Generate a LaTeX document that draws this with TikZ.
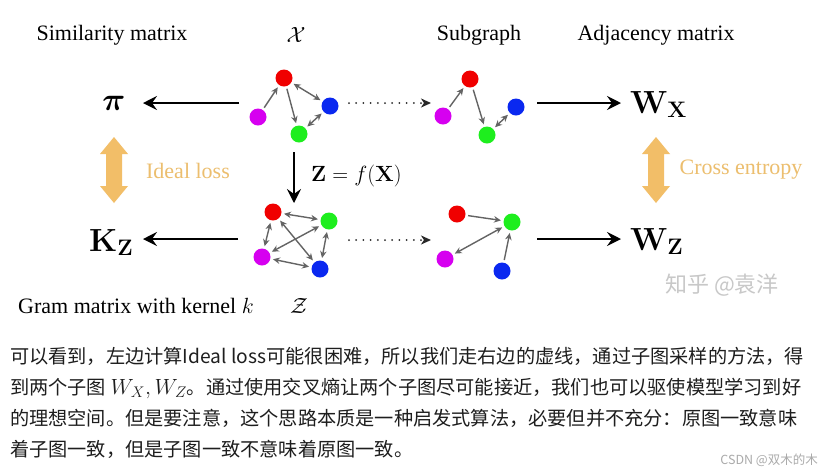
\RequirePackage{fix-cm}
\documentclass[tikz,border=0pt]{standalone}
\usepackage{amsmath}
\usepackage[no-math]{fontspec}
\setmainfont{Liberation Serif}
\newfontfamily\cjk{Noto Sans CJK SC}
\usetikzlibrary{arrows.meta}
\definecolor{nred}{RGB}{240,0,0}
\definecolor{nmag}{RGB}{214,0,240}
\definecolor{nblue}{RGB}{10,40,240}
\definecolor{ngreen}{RGB}{30,238,30}
\definecolor{egray}{RGB}{100,100,100}
\definecolor{lorange}{RGB}{242,190,104}
\definecolor{torange}{RGB}{236,190,110}
\definecolor{ptext}{RGB}{30,30,30}
\definecolor{dgray}{RGB}{40,40,40}
\tikzset{
  gnode/.style={circle, minimum size=17pt, inner sep=0pt},
  gedge/.style={draw=egray, line width=1.4pt, shorten >=2.5pt, shorten <=2.5pt, >={Stealth[length=7pt,width=6.5pt]}},
  bigarrow/.style={line width=1.8pt, -{Stealth[length=14pt,width=14pt,inset=5pt]}},
  dotarrow/.style={draw=dgray, line width=2pt, dash pattern=on 0pt off 7.2pt, line cap=round, -{Stealth[length=10pt,width=9pt,inset=3pt]}},
  lbl/.style={inner sep=0pt, font=\fontsize{22}{26}\selectfont},
  mbig/.style={inner sep=0pt, font=\fontsize{32}{36}\selectfont},
  para/.style={inner sep=0pt, anchor=base west, text=ptext, font=\cjk\fontsize{19.2}{22}\selectfont},
  oarrow/.style={fill=lorange, draw=none}
}
\begin{document}
\begin{tikzpicture}[x=1pt,y=-1pt]
\useasboundingbox (0,0) rectangle (825,475);
\fill[white] (0,0) rectangle (825,475);

% top labels
\node[lbl] (simlab) at (112,35) {Similarity matrix};
\node[lbl] (xcal) at (296,35) {$\mathcal{X}$};
\node[lbl] (sublab) at (479,35) {Subgraph};
\node[lbl] (adjlab) at (656,35) {Adjacency matrix};

% graph X
\node[gnode, fill=nred] (xr) at (284,78) {};
\node[gnode, fill=nmag] (xm) at (258,117) {};
\node[gnode, fill=nblue] (xb) at (330,106) {};
\node[gnode, fill=ngreen] (xg) at (299,134) {};
\draw[gedge,->] (xm) -- (xr);
\draw[gedge,->] (xr) -- (xg);
\draw[gedge,<->] (xr) -- (xb);
\draw[gedge,<->] (xb) -- (xg);

% subgraph top
\node[gnode, fill=nred] (sr) at (470,79) {};
\node[gnode, fill=nmag] (sm) at (443,116) {};
\node[gnode, fill=nblue] (sb) at (516,107) {};
\node[gnode, fill=ngreen] (sg) at (487,135) {};
\draw[gedge,->] (sm) -- (sr);
\draw[gedge,->] (sr) -- (sg);
\draw[gedge,<->] (sg) -- (sb);

% graph Z
\node[gnode, fill=nred] (zr) at (273,212) {};
\node[gnode, fill=ngreen] (zg) at (329,221) {};
\node[gnode, fill=nmag] (zm) at (262,257) {};
\node[gnode, fill=nblue] (zb) at (320,269) {};
\draw[gedge,<->] (zr) -- (zg);
\draw[gedge,<->] (zr) -- (zm);
\draw[gedge,<->] (zr) -- (zb);
\draw[gedge,<->] (zg) -- (zm);
\draw[gedge,<->] (zg) -- (zb);
\draw[gedge,<->] (zm) -- (zb);

% subgraph bottom
\node[gnode, fill=nred] (tr) at (457,214) {};
\node[gnode, fill=ngreen] (tg) at (512,222) {};
\node[gnode, fill=nmag] (tm) at (445,259) {};
\node[gnode, fill=nblue] (tb) at (502,271) {};
\draw[gedge,->] (tr) -- (tg);
\draw[gedge,<->] (tg) -- (tm);
\draw[gedge,->] (tb) -- (tg);

% matrices
\node[mbig] (pi) at (114,103) {$\boldsymbol{\pi}$};
\node[mbig, anchor=base west] (wx) at (630,113) {$\mathbf{W}_{\mathbf{X}}$};
\node[mbig, anchor=base west] (kz) at (89,251) {$\mathbf{K}_{\mathbf{Z}}$};
\node[mbig, anchor=base west] (wz) at (630,250) {$\mathbf{W}_{\mathbf{Z}}$};

% arrow endpoints
\coordinate (a1s) at (239,103); \coordinate (a1e) at (143,103);
\coordinate (a2s) at (537,103); \coordinate (a2e) at (621,103);
\coordinate (a3s) at (238,239); \coordinate (a3e) at (143,239);
\coordinate (a4s) at (537,239); \coordinate (a4e) at (621,239);
\coordinate (d1s) at (349,103); \coordinate (d1e) at (431,103);
\coordinate (d2s) at (349,240); \coordinate (d2e) at (431,240);
\coordinate (vs) at (294,152); \coordinate (ve) at (294,203);

\draw[bigarrow] (a1s) -- (a1e);
\draw[bigarrow] (a2s) -- (a2e);
\draw[bigarrow] (a3s) -- (a3e);
\draw[bigarrow] (a4s) -- (a4e);
\draw[bigarrow] (vs) -- (ve);
\draw[dotarrow] (d1s) -- (d1e);
\draw[dotarrow] (d2s) -- (d2e);

\node[lbl, anchor=west] (zf) at (311,176) {$\mathbf{Z}=f(\mathbf{X})$};

% orange double arrows
\fill[oarrow] (114,137) -- (128,154) -- (122,154) -- (122,186) -- (128,186) -- (114,203) -- (100,186) -- (106,186) -- (106,154) -- (100,154) -- cycle;
\fill[oarrow] (656,137) -- (670,154) -- (664,154) -- (664,186) -- (670,186) -- (656,203) -- (642,186) -- (648,186) -- (648,154) -- (642,154) -- cycle;
\node[lbl, text=torange] (ideal) at (188,171) {Ideal loss};
\node[lbl, text=torange] (cross) at (741,170) {Cross entropy};

% bottom labels
\node[lbl] (gram) at (136,306) {Gram matrix with kernel $k$};
\node[lbl] (zcal) at (299,306) {$\mathcal{Z}$};

% watermark
\node[inner sep=0pt, text={rgb,255:red,200;green,200;blue,200}, font=\cjk\fontsize{22}{24}\selectfont] (zhihu) at (722,285) {知乎 @袁洋};

% paragraph
\node[para] (l1) at (10,363) {可以看到，左边计算Ideal loss可能很困难，所以我们走右边的虚线，通过子图采样的方法，得};
\node[para] (l2) at (10,394) {到两个子图 {\fontsize{22}{24}\selectfont$W_X,W_Z$}。通过使用交叉熵让两个子图尽可能接近，我们也可以驱使模型学习到好};
\node[para] (l3) at (10,425) {的理想空间。但是要注意，这个思路本质是一种启发式算法，必要但并不充分：原图一致意味};
\node[para] (l4) at (10,456) {着子图一致，但是子图一致不意味着原图一致。};
\node[inner sep=0pt, anchor=east, text={rgb,255:red,170;green,170;blue,170}, font=\cjk\fontsize{12.5}{14}\selectfont] (csdn) at (818,460) {CSDN @双木的木};
\end{tikzpicture}
\end{document}
